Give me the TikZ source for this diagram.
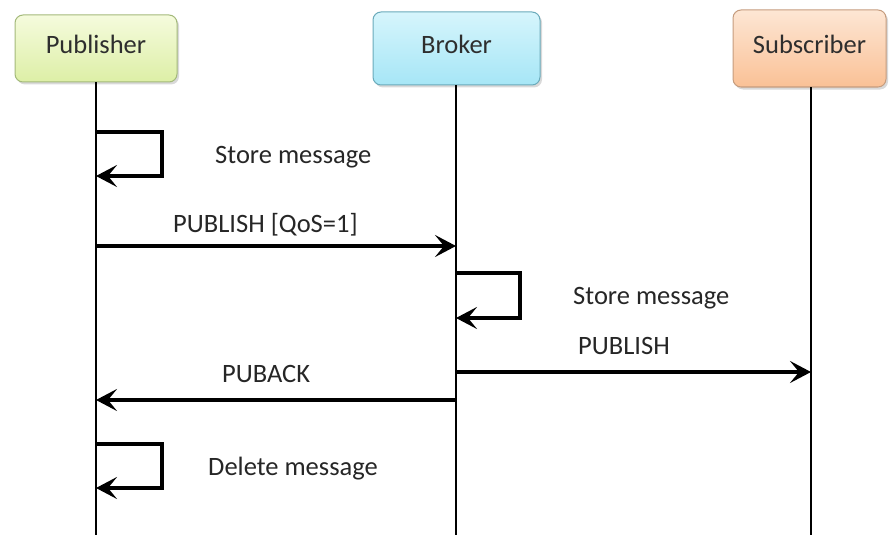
\documentclass[tikz,border=0pt]{standalone}
\usepackage{fontspec}
\setmainfont{Carlito}
\usetikzlibrary{arrows.meta,shadows}
\definecolor{pubTop}{HTML}{F5FBDD}
\definecolor{pubBot}{HTML}{DDEFA6}
\definecolor{pubEdge}{HTML}{A3B97A}
\definecolor{brkTop}{HTML}{D6F5FC}
\definecolor{brkBot}{HTML}{A6E6F6}
\definecolor{brkEdge}{HTML}{6AAABA}
\definecolor{subTop}{HTML}{FDE6D4}
\definecolor{subBot}{HTML}{FAC196}
\definecolor{subEdge}{HTML}{C59C7E}
\begin{document}
\begin{tikzpicture}[x=1pt,y=-1pt,
  actor/.style={draw=#1, line width=1pt, rounded corners=8pt,
    inner sep=0pt, font=\fontsize{26.5}{30}\selectfont,
    text=black!82, text height=17pt, text depth=6pt,
    drop shadow={shadow xshift=2pt, shadow yshift=-2.5pt, opacity=0.3}},
  lifeline/.style={line width=2.5pt},
  msg/.style={line width=3.1pt, -{Stealth[length=21pt,width=22pt,inset=9pt]}},
  lbl/.style={font=\fontsize{26.5}{30}\selectfont, text=black!85,
    inner sep=0pt, anchor=base west},
]
\useasboundingbox (0,0) rectangle (889,535);

% participants
\node[actor=pubEdge, top color=pubTop, bottom color=pubBot,
      minimum width=162pt, minimum height=67pt] (pub) at (96,48.5) {Publisher};
\node[actor=brkEdge, top color=brkTop, bottom color=brkBot,
      minimum width=167pt, minimum height=73pt] (brk) at (456.5,48.5) {Broker};
\node[actor=subEdge, top color=subTop, bottom color=subBot,
      minimum width=153pt, minimum height=77pt] (sub) at (809.5,48.5) {Subscriber};

% lifeline ends
\coordinate (pubEnd) at (96,535);
\coordinate (brkEnd) at (456,535);
\coordinate (subEnd) at (811,535);
\draw[lifeline] (pub.south -| pubEnd) -- (pubEnd);
\draw[lifeline] (brk.south -| brkEnd) -- (brkEnd);
\draw[lifeline] (sub.south -| subEnd) -- (subEnd);

% anchor points on the lifelines
\coordinate (p1a) at (96,132);  \coordinate (p1b) at (96,176);
\coordinate (p2)  at (96,246);  \coordinate (b2)  at (456,246);
\coordinate (b3a) at (456,273); \coordinate (b3b) at (456,318);
\coordinate (b4)  at (456,372); \coordinate (s4)  at (811,372);
\coordinate (b5)  at (456,400); \coordinate (p5)  at (96,400);
\coordinate (p6a) at (96,444);  \coordinate (p6b) at (96,488);

% store message at the publisher
\draw[msg] (p1a) -| (162,176) -- (p1b);
\node[lbl] (t1) at (215,163) {Store message};

% publish to broker
\draw[msg] (p2) -- (b2);
\node[lbl] (t2) at (173,232) {PUBLISH [QoS=1]};

% store message at the broker
\draw[msg] (b3a) -| (520,318) -- (b3b);
\node[lbl] (t3) at (573,304) {Store message};

% forward to subscriber
\draw[msg] (b4) -- (s4);
\node[lbl] (t4) at (578,354) {PUBLISH};

% acknowledgement back to publisher
\draw[msg] (b5) -- (p5);
\node[lbl] (t5) at (222,382) {PUBACK};

% delete message at the publisher
\draw[msg] (p6a) -| (162,488) -- (p6b);
\node[lbl] (t6) at (208,475) {Delete message};
\end{tikzpicture}
\end{document}
